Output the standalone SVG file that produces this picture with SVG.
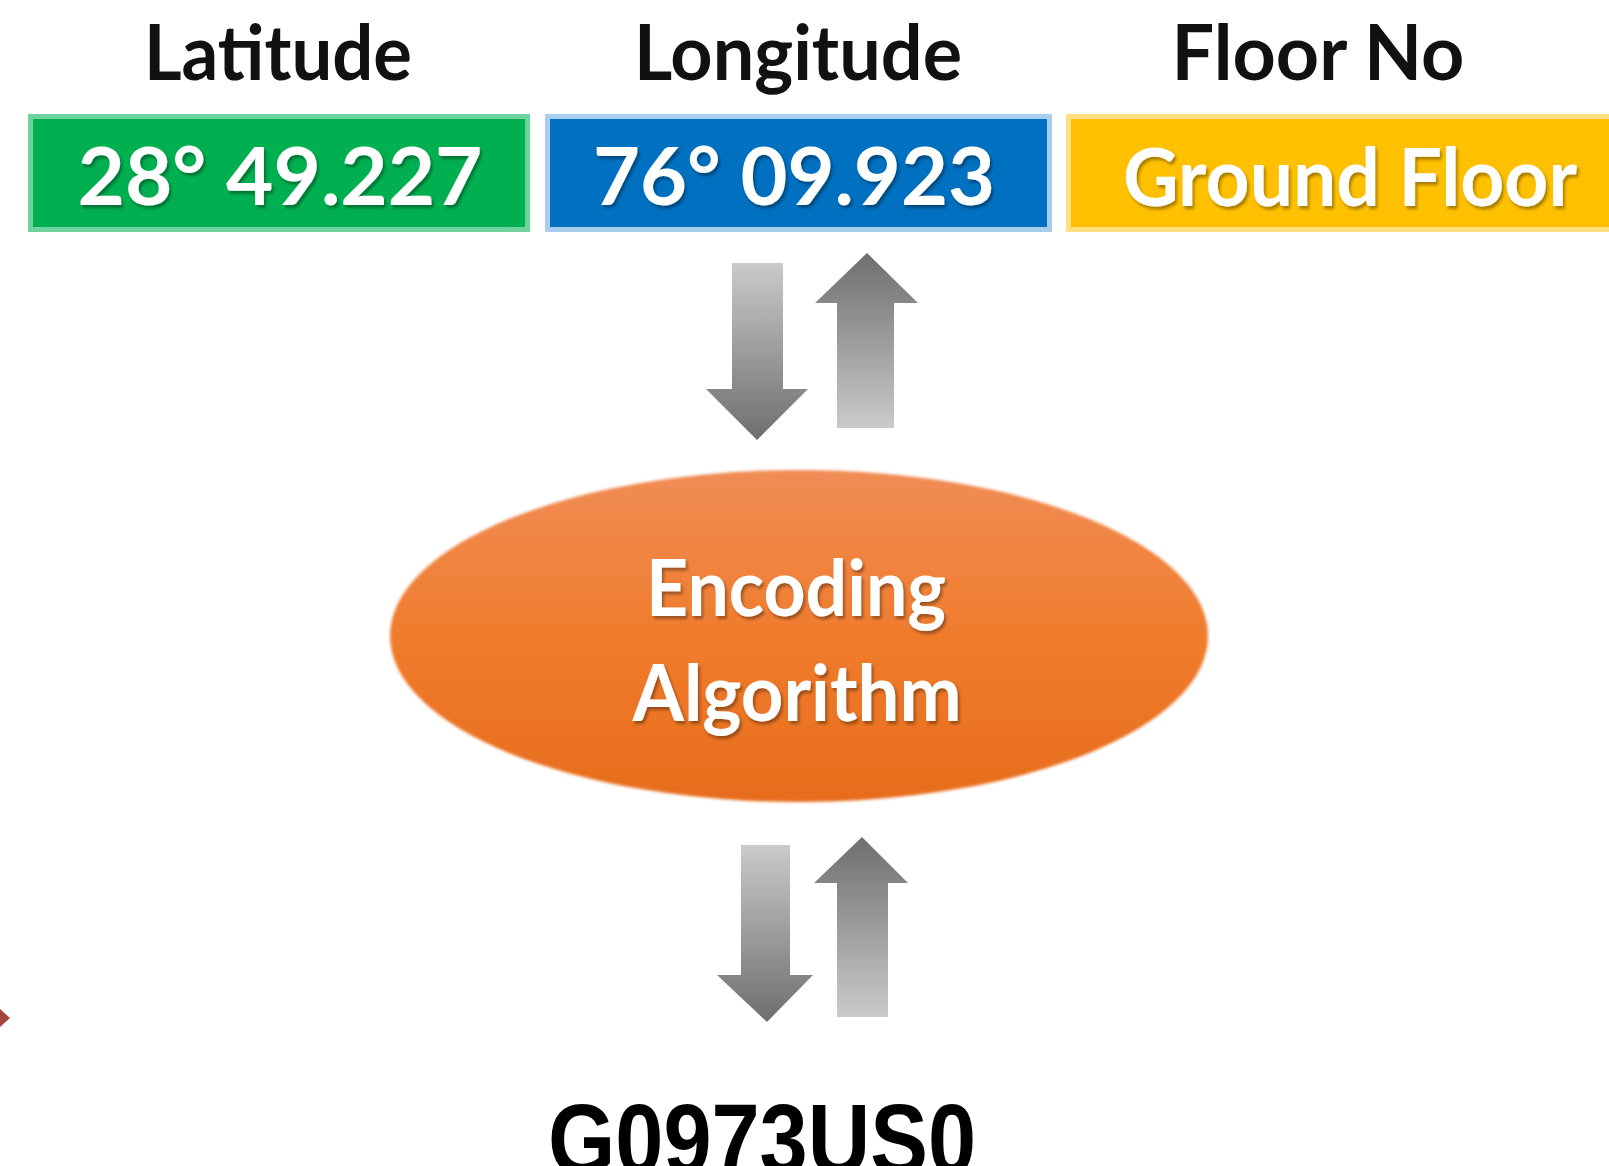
<svg xmlns="http://www.w3.org/2000/svg" width="1609" height="1166" viewBox="0 0 1609 1166">
<defs>
<linearGradient id="gDown" x1="0" y1="0" x2="0" y2="1"><stop offset="0" stop-color="#cacaca"/><stop offset="1" stop-color="#6e6e6e"/></linearGradient>
<linearGradient id="gUp" x1="0" y1="0" x2="0" y2="1"><stop offset="0" stop-color="#6e6e6e"/><stop offset="1" stop-color="#cacaca"/></linearGradient>
<linearGradient id="gEll" x1="0" y1="0" x2="0" y2="1"><stop offset="0" stop-color="#f08c55"/><stop offset="0.5" stop-color="#f07c2c"/><stop offset="1" stop-color="#e66c1c"/></linearGradient>
<filter id="soft" x="-5%" y="-5%" width="110%" height="110%"><feGaussianBlur stdDeviation="1.5"/></filter>
<filter id="shadow" x="-10%" y="-20%" width="120%" height="140%"><feDropShadow dx="2" dy="3" stdDeviation="1.5" flood-color="#000" flood-opacity="0.35"/></filter>
</defs>
<style>
.hdr{font-family:"Lato","Liberation Sans",sans-serif;font-weight:700;font-size:76px;fill:#111;text-anchor:middle}
.val{font-family:"Lato","Liberation Sans",sans-serif;font-weight:700;font-size:80px;fill:#fff;text-anchor:middle}
.alg{font-family:"Lato","Liberation Sans",sans-serif;font-weight:700;font-size:78px;fill:#fff;text-anchor:middle}
.code{font-family:"Liberation Sans","Arial",sans-serif;font-weight:700;font-size:100px;fill:#000;text-anchor:middle}
</style>
<rect width="1609" height="1166" fill="#fff"/>

<g id="latitude">
<text class="hdr" x="278" y="80" textLength="268" lengthAdjust="spacingAndGlyphs">Latitude</text>
<rect x="30.5" y="116.5" width="497" height="113" fill="#00b050" stroke="#6fd3a0" stroke-width="5"/>
<text class="val" x="280" y="205" textLength="405" lengthAdjust="spacingAndGlyphs" filter="url(#shadow)">28° 49.227</text>
</g>

<g id="longitude">
<text class="hdr" x="798" y="80" textLength="328" lengthAdjust="spacingAndGlyphs">Longitude</text>
<rect x="547.5" y="116.5" width="502" height="113" fill="#0070c0" stroke="#a9cdee" stroke-width="5"/>
<text class="val" x="794" y="205" textLength="402" lengthAdjust="spacingAndGlyphs" filter="url(#shadow)">76° 09.923</text>
</g>

<g id="floor">
<text class="hdr" x="1318" y="80" textLength="293" lengthAdjust="spacingAndGlyphs">Floor No</text>
<rect x="1068.5" y="116.5" width="560" height="113" fill="#ffc000" stroke="#ffdf80" stroke-width="5"/>
<text class="val" x="1350" y="206" textLength="454" lengthAdjust="spacingAndGlyphs" filter="url(#shadow)">Ground Floor</text>
</g>

<g id="encoding">
<ellipse cx="799" cy="636" rx="409" ry="166" fill="url(#gEll)" filter="url(#soft)"/>
<text class="alg" x="796" y="616" textLength="300" lengthAdjust="spacingAndGlyphs" filter="url(#shadow)">Encoding</text>
<text class="alg" x="797" y="721" textLength="329" lengthAdjust="spacingAndGlyphs" filter="url(#shadow)">Algorithm</text>
</g>

<g id="code">
<text class="code" x="762" y="1174" textLength="428" lengthAdjust="spacingAndGlyphs">G0973US0</text>
</g>

<g id="connectors">
<polygon points="732,263 783,263 783,389 808,389 757,440 706,389 732,389" fill="url(#gDown)"/>
<polygon points="867,253 918,303 894,303 894,428 837,428 837,303 815,303" fill="url(#gUp)"/>
<polygon points="741,845 790,845 790,975 813,975 767,1022 717,975 741,975" fill="url(#gDown)"/>
<polygon points="862,837 908,883 888,883 888,1017 837,1017 837,883 814,883" fill="url(#gUp)"/>
<polygon points="0,1009 10,1018 0,1027" fill="#a5453c"/>
</g>
</svg>
